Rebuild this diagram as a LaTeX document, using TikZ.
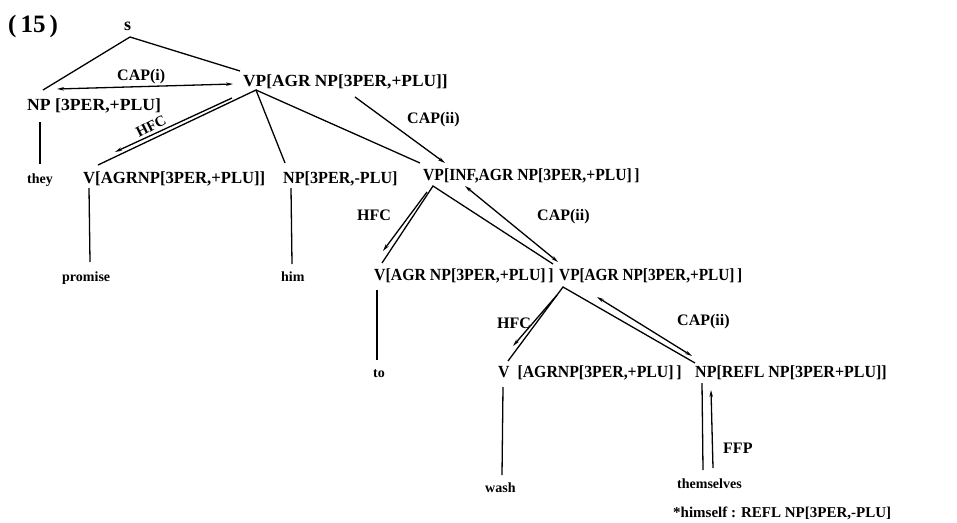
\documentclass[tikz,border=0pt]{standalone}
\usepackage{graphicx}
\usepackage{fontspec}
\setmainfont{Liberation Serif}
\usetikzlibrary{arrows.meta}
% horizontally squeezed or stretched category label
\newcommand{\catlabel}[2]{\scalebox{#1}[1]{#2}}
\begin{document}
\begin{tikzpicture}[x=1pt,y=-1pt,
  cat/.style={anchor=base west,inner sep=0pt,font=\bfseries\fontsize{17}{19}\selectfont},
  word/.style={anchor=base west,inner sep=0pt,font=\bfseries\fontsize{14}{16}\selectfont},
  lab/.style={anchor=base west,inner sep=0pt,font=\bfseries\fontsize{16}{18}\selectfont},
  branch/.style={line width=1.3pt},
  feat/.style={line width=1.3pt,-{Stealth[length=7pt,width=3.5pt]}},
  featboth/.style={line width=1.3pt,{Stealth[length=7pt,width=3.5pt]}-{Stealth[length=7pt,width=3.5pt]}}]
\useasboundingbox (0,0) rectangle (957,522);

% example number and root
\node[anchor=base west,inner sep=0pt,font=\bfseries\fontsize{25}{27}\selectfont] (num) at (8,32) {(\kern4pt15\kern4pt)};
\node[anchor=base west,inner sep=0pt,font=\bfseries\fontsize{18}{20}\selectfont] (s) at (124,30) {s};

% categories
\node[cat] (vp1) at (243,86) {\catlabel{1.02}{VP[AGR NP[3PER,+PLU]]}};
\node[cat] (np1) at (27,110) {\catlabel{1.04}{NP [3PER,+PLU]}};
\node[cat] (v1) at (83,183) {\catlabel{0.98}{V[AGRNP[3PER,+PLU]]}};
\node[cat] (np2) at (283,183) {\catlabel{0.95}{NP[3PER,-PLU]}};
\node[cat] (vpinf) at (423,180) {\catlabel{0.92}{VP[INF,AGR NP[3PER,+PLU]\,]}};
\node[cat] (v2) at (374,280) {\catlabel{0.93}{V[AGR NP[3PER,+PLU]\,]}};
\node[cat] (vp2) at (559,280) {\catlabel{0.9}{VP[AGR NP[3PER,+PLU]\,]}};
\node[cat] (v3) at (498,377) {\catlabel{0.93}{V \ [AGRNP[3PER,+PLU]\,]}};
\node[cat] (np3) at (695,377) {\catlabel{0.94}{NP[REFL NP[3PER+PLU]]}};

% words
\node[word] (they) at (27,183) {they};
\node[word] (promise) at (62,281) {promise};
\node[word] (him) at (281,281) {him};
\node[word] (to) at (373,377) {to};
\node[word] (wash) at (485,492) {wash};
\node[word] (themselves) at (677,488) {themselves};
\node[word,font=\bfseries\fontsize{15}{17}\selectfont] (note) at (673,517) {*himself : REFL NP[3PER,-PLU]};

% feature principle labels
\node[lab] (capi) at (117,80) {CAP(i)};
\node[lab,anchor=center,rotate=27,font=\bfseries\fontsize{15}{17}\selectfont] (hfca) at (151,126) {HFC};
\node[lab] (capiia) at (407,123) {CAP(ii)};
\node[lab] (hfcb) at (357,220) {HFC};
\node[lab] (capiib) at (537,220) {CAP(ii)};
\node[lab] (hfcc) at (497,328) {HFC};
\node[lab] (capiic) at (677,325) {CAP(ii)};
\node[lab] (ffp) at (723,453) {FFP};

% branch end points
\coordinate (s-top) at (130,37);
\coordinate (np1-up) at (43,90);
\coordinate (vp1-up) at (240,71);
\coordinate (np1-dn) at (40,122);
\coordinate (they-up) at (40,164);
\coordinate (vp1-dn) at (256,90);
\coordinate (v1-up) at (98,165);
\coordinate (np2-up) at (285,163);
\coordinate (vpinf-up) at (420,163);
\coordinate (v1-dn) at (89,188);
\coordinate (promise-up) at (90,262);
\coordinate (np2-dn) at (291,188);
\coordinate (him-up) at (292,264);
\coordinate (vpinf-dn) at (433,186);
\coordinate (v2-up) at (382,263);
\coordinate (vp2-up) at (553,264);
\coordinate (v2-dn) at (377,290);
\coordinate (to-up) at (377,360);
\coordinate (vp2-dn) at (563,287);
\coordinate (v3-up) at (508,361);
\coordinate (np3-up) at (695,363);
\coordinate (v3-dn) at (503,387);
\coordinate (wash-up) at (502,475);
\coordinate (np3-dn) at (702,383);
\coordinate (themselves-up) at (703,470);

% tree branches
\draw[branch] (np1-up) -- (s-top) -- (vp1-up);
\draw[branch] (np1-dn) -- (they-up);
\draw[branch] (v1-up) -- (vp1-dn) -- (np2-up);
\draw[branch] (vp1-dn) -- (vpinf-up);
\draw[branch] (v1-dn) -- (promise-up);
\draw[branch] (np2-dn) -- (him-up);
\draw[branch] (v2-up) -- (vpinf-dn) -- (vp2-up);
\draw[branch] (v2-dn) -- (to-up);
\draw[branch] (v3-up) -- (vp2-dn) -- (np3-up);
\draw[branch] (v3-dn) -- (wash-up);
\draw[branch] (np3-dn) -- (themselves-up);

% feature flow arrows
\coordinate (capi-l) at (57,89);
\coordinate (capi-r) at (233,84);
\draw[featboth] (capi-l) -- (capi-r);
\coordinate (hfca-s) at (232,98);
\coordinate (hfca-e) at (115,152);
\draw[feat] (hfca-s) -- (hfca-e);
\coordinate (capiia-s) at (355,97);
\coordinate (capiia-e) at (445,163);
\draw[feat] (capiia-s) -- (capiia-e);
\coordinate (hfcb-s) at (427,192);
\coordinate (hfcb-e) at (383,251);
\draw[feat] (hfcb-s) -- (hfcb-e);
\coordinate (capiib-s) at (465,186);
\coordinate (capiib-e) at (558,262);
\draw[featboth] (capiib-s) -- (capiib-e);
\coordinate (hfcc-s) at (557,295);
\coordinate (hfcc-e) at (513,346);
\draw[feat] (hfcc-s) -- (hfcc-e);
\coordinate (capiic-s) at (597,297);
\coordinate (capiic-e) at (692,356);
\draw[featboth] (capiic-s) -- (capiic-e);
\coordinate (ffp-s) at (713,468);
\coordinate (ffp-e) at (711,390);
\draw[feat] (ffp-s) -- (ffp-e);
\end{tikzpicture}
\end{document}
